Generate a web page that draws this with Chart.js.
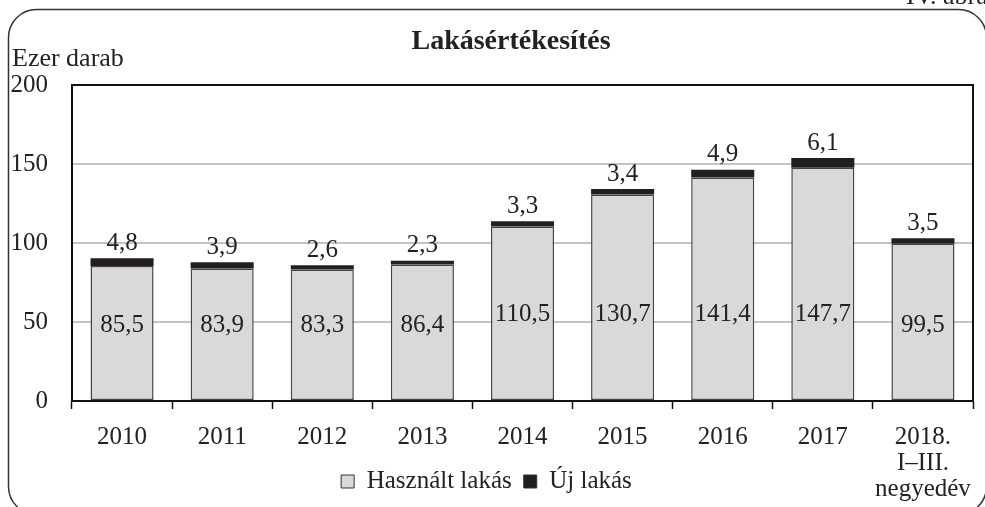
<!DOCTYPE html>
<html>
<head>
<meta charset="utf-8">
<script src="https://cdn.jsdelivr.net/npm/chart.js@4.4.0/dist/chart.umd.min.js"></script>
<style>
  html, body { margin: 0; padding: 0; background: #fff; }
  #wrap { width: 985px; height: 507px; position: relative; }
</style>
</head>
<body>
<div id="wrap"><canvas id="lakasChart"></canvas></div>
<script>
const categories = ['2010', '2011', '2012', '2013', '2014', '2015', '2016', '2017', ['2018.', 'I–III.', 'negyedév']];
const usedFlats = [85.5, 83.9, 83.3, 86.4, 110.5, 130.7, 141.4, 147.7, 99.5];
const newFlats = [4.8, 3.9, 2.6, 2.3, 3.3, 3.4, 4.9, 6.1, 3.5];
const yTicks = [0, 50, 100, 150, 200];

const FONT = '"Liberation Serif", "Times New Roman", serif';
const fmt = v => v.toFixed(1).replace('.', ',');

// frame, rounded border, extra texts and value labels
const decorPlugin = {
    id: 'decor',
    afterLayout(chart) {
        // let the three-line category label run below the axis box
        chart.scales.x.bottom = chart.height;
    },
    beforeDraw(chart) {
        const c = chart.ctx;
        c.save();
        c.strokeStyle = '#333';
        c.lineWidth = 1.5;
        c.beginPath();
        c.roundRect(8.5, 9.5, 978, 505, 28);
        c.stroke();
        c.fillStyle = '#222';
        c.font = '26px ' + FONT;
        c.textAlign = 'left';
        c.textBaseline = 'alphabetic';
        c.fillText('IV. ábra', 906, 4);
        c.font = '26px ' + FONT;
        c.fillText('Ezer darab', 12, 66);
        c.font = 'bold 28px ' + FONT;
        c.textAlign = 'center';
        c.fillText('Lakásértékesítés', 511, 49);
        c.restore();
    },
    afterDatasetsDraw(chart) {
        const c = chart.ctx;
        const a = chart.chartArea;
        const y = chart.scales.y;
        c.save();
        c.strokeStyle = '#111';
        c.lineWidth = 2;
        c.beginPath();
        c.moveTo(a.left, a.top);
        c.lineTo(a.right, a.top);
        c.lineTo(a.right, a.bottom);
        c.stroke();
        c.fillStyle = '#222';
        c.font = '25px ' + FONT;
        c.textAlign = 'center';
        c.textBaseline = 'middle';
        const used = chart.getDatasetMeta(0).data;
        const fresh = chart.getDatasetMeta(1).data;
        used.forEach((bar, i) => {
            const anchor = usedFlats[i] < 100 ? 48 : 55;
            c.fillText(fmt(usedFlats[i]), bar.x, y.getPixelForValue(anchor));
        });
        fresh.forEach((bar, i) => {
            c.fillText(fmt(newFlats[i]), bar.x, bar.y - 15);
        });
        c.restore();
    }
};

document.addEventListener('DOMContentLoaded', () => {
    const ctx = document.getElementById('lakasChart').getContext('2d');
    new Chart(ctx, {
        type: 'bar',
        data: {
            labels: categories,
            datasets: [{
                label: 'Használt lakás',
                data: usedFlats,
                backgroundColor: '#d9d9db',
                borderColor: '#444',
                borderWidth: 1.5,
                borderSkipped: false
            }, {
                label: 'Új lakás',
                data: newFlats,
                backgroundColor: '#231f20',
                borderColor: '#231f20',
                borderWidth: 0
            }]
        },
        options: {
            responsive: true,
            maintainAspectRatio: false,
            animation: false,
            datasets: {
                bar: { barPercentage: 0.63, categoryPercentage: 1 }
            },
            layout: { padding: { top: 85, right: 12, left: 0, bottom: 3 } },
            scales: {
                x: {
                    stacked: true,
                    afterFit: s => {
                        s.height = 56;
                        s.paddingLeft = 0;
                        s.paddingRight = 0;
                    },
                    grid: {
                        offset: true,
                        drawOnChartArea: false,
                        color: '#111',
                        tickLength: 8,
                        tickWidth: 1.5
                    },
                    border: { color: '#111', width: 2 },
                    ticks: {
                        color: '#222',
                        padding: 16,
                        maxRotation: 0,
                        autoSkip: false,
                        font: { family: FONT, size: 25, lineHeight: 1.03 }
                    }
                },
                y: {
                    stacked: true,
                    min: 0,
                    max: 200,
                    afterFit: s => { s.width = 72; },
                    afterBuildTicks: s => { s.ticks = yTicks.map(v => ({ value: v })); },
                    grid: {
                        drawTicks: false,
                        lineWidth: 2,
                        color: c => (c.tick.value === 0 || c.tick.value === 200) ? 'rgba(0,0,0,0)' : '#c4c4c4'
                    },
                    border: { color: '#111', width: 2 },
                    ticks: {
                        color: '#222',
                        padding: 24,
                        font: { family: FONT, size: 25 }
                    }
                }
            },
            plugins: {
                title: { display: false },
                tooltip: { enabled: false },
                legend: {
                    position: 'bottom',
                    labels: {
                        color: '#222',
                        boxWidth: 13,
                        boxHeight: 13,
                        padding: 12,
                        font: { family: FONT, size: 25 },
                        generateLabels: chart => chart.data.datasets.map((d, i) => ({
                            text: d.label,
                            fillStyle: d.backgroundColor,
                            strokeStyle: '#333',
                            lineWidth: 1,
                            fontColor: '#222',
                            datasetIndex: i
                        }))
                    }
                }
            }
        },
        plugins: [decorPlugin]
    });
});
</script>
</body>
</html>
